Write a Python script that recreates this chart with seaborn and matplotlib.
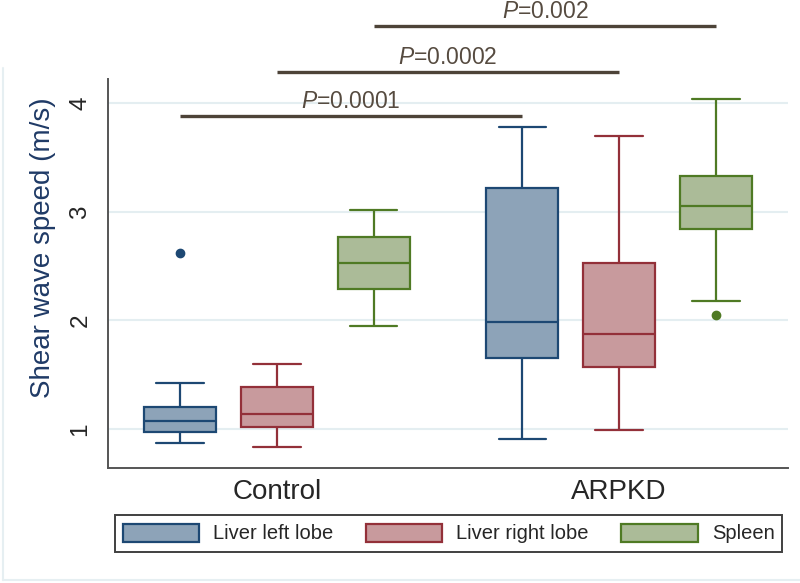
import numpy as np
import pandas as pd
import matplotlib
matplotlib.use("Agg")
import matplotlib.pyplot as plt
import seaborn as sns
from matplotlib.patches import Patch
from matplotlib.lines import Line2D

# ---------------- data ----------------
groups = ["Control", "ARPKD"]
sites = ["Liver left lobe", "Liver right lobe", "Spleen"]

# per group: values for [Liver left lobe, Liver right lobe, Spleen]
lower_whisker = {"Control": [0.87, 0.83, 1.95], "ARPKD": [0.91, 0.99, 2.18]}
q1_values = {"Control": [0.97, 1.02, 2.29], "ARPKD": [1.65, 1.57, 2.84]}
median_values = {"Control": [1.07, 1.14, 2.53], "ARPKD": [1.98, 1.87, 3.05]}
q3_values = {"Control": [1.20, 1.39, 2.77], "ARPKD": [3.22, 2.53, 3.33]}
upper_whisker = {"Control": [1.42, 1.60, 3.02], "ARPKD": [3.78, 3.70, 4.04]}
outlier_values = {"Control": [[2.62], [], []], "ARPKD": [[], [], [2.05]]}

comparisons = [  # (site, y level, p-value text)
    ("Liver left lobe", 3.886, "0.0001"),
    ("Liver right lobe", 4.291, "0.0002"),
    ("Spleen", 4.712, "0.002"),
]
ytick_values = [1, 2, 3, 4]

# ---------------- build samples reproducing the summaries ----------------
rows = []
for g in groups:
    for i, s in enumerate(sites):
        lo, a, m, b, hi = (lower_whisker[g][i], q1_values[g][i], median_values[g][i],
                           q3_values[g][i], upper_whisker[g][i])
        outs = outlier_values[g][i]
        if outs:
            sample = [lo, a, a, m, m, b, b, hi] + outs
        else:
            sample = [lo, a, m, b, hi]
        for v in sample:
            rows.append({"group": g, "site": s, "value": v})
df = pd.DataFrame(rows)

# ---------------- style ----------------
sns.set_style("white")
plt.rcParams["font.family"] = ["Liberation Sans", "DejaVu Sans"]
plt.rcParams["mathtext.fontset"] = "custom"
plt.rcParams["mathtext.it"] = "Liberation Sans:italic"
plt.rcParams["mathtext.rm"] = "Liberation Sans"

fill_colors = {"Liver left lobe": "#8DA3B8", "Liver right lobe": "#C89A9D", "Spleen": "#ABBB98"}
edge_colors = {"Liver left lobe": "#1D4873", "Liver right lobe": "#933039", "Spleen": "#4F7A24"}

fig = plt.figure(figsize=(8.0, 5.83), dpi=100)
ax = fig.add_axes([108 / 800, 1 - 468 / 583, 680 / 800, 389 / 583])

width = 0.85
for s in sites:
    sub = df[df["site"] == s]
    ec = edge_colors[s]
    sns.boxplot(
        data=sub, x="group", y="value", hue="site",
        order=groups, hue_order=sites, palette=fill_colors,
        saturation=1, width=width, gap=0.25, dodge=True,
        linecolor=ec, linewidth=1.6, legend=False,
        flierprops=dict(marker="o", markersize=6, markerfacecolor=ec,
                        markeredgecolor=ec),
        capwidths=0.138,
        ax=ax,
    )

ax.set_xlim(-0.494, 1.494)
ax.set_ylim(0.639, 4.224)
ax.set_yticks(ytick_values)
ax.set_yticklabels([str(v) for v in ytick_values])
ax.yaxis.grid(True, color="#E4EEF1", linewidth=1.5)
ax.set_axisbelow(True)
for sp in ["top", "right"]:
    ax.spines[sp].set_visible(False)
for sp in ["left", "bottom"]:
    ax.spines[sp].set_color("#555555")
    ax.spines[sp].set_linewidth(1.4)

ax.tick_params(axis="y", length=6, width=1.2, color="#666666", pad=6,
               labelsize=17.5, labelrotation=90)
for lab in ax.get_yticklabels():
    lab.set_va("center")
ax.tick_params(axis="x", length=0, pad=8, labelsize=20)
ax.set_xlabel("")
ax.set_ylabel("Shear wave speed (m/s)", fontsize=20, color="#1F3A66")
ax.yaxis.set_label_coords(-0.077, 0.567)

# ---------------- p-value annotations ----------------
slot = width / len(sites)
line_color = "#4D4338"
text_color = "#564B40"
for s, ylev, p in comparisons:
    k = sites.index(s)
    off = (k - (len(sites) - 1) / 2) * slot
    x0 = groups.index("Control") + off
    x1 = groups.index("ARPKD") + off
    ax.plot([x0, x1], [ylev, ylev], color=line_color, lw=2.4, clip_on=False,
            solid_capstyle="butt")
    ax.text((x0 + x1) / 2, ylev + 0.071, r"$\mathit{P}$=" + p, ha="center",
            va="baseline", fontsize=16.5, color=text_color, clip_on=False)

# ---------------- legend ----------------
handles = [Patch(facecolor=fill_colors[s], edgecolor=edge_colors[s], linewidth=1.6)
           for s in sites]
leg = fig.legend(handles, sites, loc="center", bbox_to_anchor=(448.5 / 800, 1 - 533.5 / 583),
                 ncol=3, fontsize=14.5, frameon=True, fancybox=False,
                 handlelength=3.8, handleheight=1.0, handletextpad=0.7,
                 columnspacing=1.6, borderpad=0.4, borderaxespad=0)
leg.get_frame().set_edgecolor("#404040")
leg.get_frame().set_linewidth(1.4)
leg.get_frame().set_alpha(1)

# light outer frame (partially visible in the reference)
fig.add_artist(Line2D([3 / 800, 3 / 800], [1 - 68 / 583, 1 - 580 / 583],
                      transform=fig.transFigure, color="#E6EFF2", lw=1.5))
fig.add_artist(Line2D([3 / 800, 1.0], [1 - 580 / 583, 1 - 580 / 583],
                      transform=fig.transFigure, color="#E6EFF2", lw=1.5))

fig.savefig("out.png", dpi=100)
